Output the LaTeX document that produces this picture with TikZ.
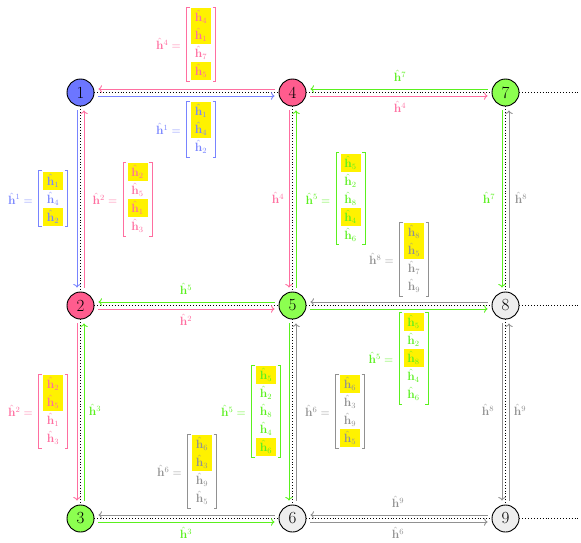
\documentclass[tikz,border=0pt]{standalone}
\usetikzlibrary{arrows.meta}
\definecolor{nBlue}{RGB}{108,118,255}
\definecolor{nPink}{RGB}{255,92,142}
\definecolor{nGreen}{RGB}{140,255,80}
\definecolor{nGray}{RGB}{238,238,238}
\definecolor{blueC}{RGB}{120,132,255}
\definecolor{pinkC}{RGB}{255,110,160}
\definecolor{greenC}{RGB}{90,240,30}
\definecolor{grayC}{RGB}{145,145,145}
\tikzset{
  gnode/.style={circle,draw=black,line width=0.9pt,minimum size=27pt,inner sep=0pt,font=\fontsize{17}{20}\selectfont},
  dotline/.style={dotted,line width=0.9pt,black},
  msg/.style={->,line width=0.9pt,shorten >=4pt,shorten <=4pt},
  msgT/.style={msg,transform canvas={yshift=3.5pt}},
  msgB/.style={msg,transform canvas={yshift=-3.5pt}},
  msgL/.style={msg,transform canvas={xshift=-3.5pt}},
  msgR/.style={msg,transform canvas={xshift=3.5pt}},
  entry/.style={inner sep=0pt,minimum width=20pt,minimum height=18pt},
  lbl/.style={inner sep=1pt},
}
\newcommand{\hvec}[7]{%
  \foreach \i/\hl [count=\k] in {#6} {%
    \ifnum\hl=1 \def\fillc{yellow}\else\def\fillc{none}\fi
    \node[entry,fill=\fillc,text=#4] (#1-\k) at (#2,{#3-(#5-1)*9+(\k-1)*18}) {$\hat{\mathbf h}_{\i}$};
  }
  \draw[#4,line width=0.6pt] ({#2-11.5},{#3-(#5-1)*9-10}) -- ({#2-14.5},{#3-(#5-1)*9-10}) -- ({#2-14.5},{#3+(#5-1)*9+10}) -- ({#2-11.5},{#3+(#5-1)*9+10});
  \draw[#4,line width=0.6pt] ({#2+11.5},{#3-(#5-1)*9-10}) -- ({#2+14.5},{#3-(#5-1)*9-10}) -- ({#2+14.5},{#3+(#5-1)*9+10}) -- ({#2+11.5},{#3+(#5-1)*9+10});
  \node[lbl,anchor=east,text=#4] (#1-l) at ({#2-19},#3) {$\hat{\mathbf h}^{#7} =$};
}
\begin{document}
\begin{tikzpicture}[x=1pt,y=-1pt,font=\fontsize{12}{14}\selectfont]
\useasboundingbox (0,0) rectangle (581,542);
% nodes
\node[gnode,fill=nBlue] (n1) at (80.5,92.5) {1};
\node[gnode,fill=nPink] (n4) at (292.5,92.5) {4};
\node[gnode,fill=nGreen] (n7) at (505.5,92.5) {7};
\node[gnode,fill=nPink] (n2) at (80.5,305.5) {2};
\node[gnode,fill=nGreen] (n5) at (292.5,305.5) {5};
\node[gnode,fill=nGray] (n8) at (505.5,305.5) {8};
\node[gnode,fill=nGreen] (n3) at (80.5,518.5) {3};
\node[gnode,fill=nGray] (n6) at (292.5,518.5) {6};
\node[gnode,fill=nGray] (n9) at (505.5,518.5) {9};
\coordinate (e7) at (578,92.5);
\coordinate (e8) at (578,305.5);
\coordinate (e9) at (578,518.5);
% dotted edges
\draw[dotline] (n1) -- (n4);
\draw[dotline] (n4) -- (n7);
\draw[dotline] (n2) -- (n5);
\draw[dotline] (n5) -- (n8);
\draw[dotline] (n3) -- (n6);
\draw[dotline] (n6) -- (n9);
\draw[dotline] (n1) -- (n2);
\draw[dotline] (n2) -- (n3);
\draw[dotline] (n4) -- (n5);
\draw[dotline] (n5) -- (n6);
\draw[dotline] (n7) -- (n8);
\draw[dotline] (n8) -- (n9);
\draw[dotline] (n7) -- (e7);
\draw[dotline] (n8) -- (e8);
\draw[dotline] (n9) -- (e9);
% horizontal messages
\draw[msgT,pinkC] (n4) -- (n1);
\draw[msgB,blueC] (n1) -- (n4);
\draw[msgT,greenC] (n7) -- (n4);
\draw[msgB,pinkC] (n4) -- (n7);
\draw[msgT,greenC] (n5) -- (n2);
\draw[msgB,pinkC] (n2) -- (n5);
\draw[msgT,grayC] (n8) -- (n5);
\draw[msgB,greenC] (n5) -- (n8);
\draw[msgT,grayC] (n6) -- (n3);
\draw[msgB,greenC] (n3) -- (n6);
\draw[msgT,grayC] (n9) -- (n6);
\draw[msgB,grayC] (n6) -- (n9);
% vertical messages
\draw[msgL,blueC] (n1) -- (n2);
\draw[msgR,pinkC] (n2) -- (n1);
\draw[msgL,pinkC] (n4) -- (n5);
\draw[msgR,greenC] (n5) -- (n4);
\draw[msgL,greenC] (n7) -- (n8);
\draw[msgR,grayC] (n8) -- (n7);
\draw[msgL,pinkC] (n2) -- (n3);
\draw[msgR,greenC] (n3) -- (n2);
\draw[msgL,greenC] (n5) -- (n6);
\draw[msgR,grayC] (n6) -- (n5);
\draw[msgL,grayC] (n8) -- (n9);
\draw[msgR,grayC] (n9) -- (n8);
% edge labels
\node[lbl,text=greenC] (l47a) at (400,76) {$\hat{\mathbf h}^{7}$};
\node[lbl,text=pinkC] (l47b) at (400,107) {$\hat{\mathbf h}^{4}$};
\node[lbl,text=greenC] (l25a) at (186,289) {$\hat{\mathbf h}^{5}$};
\node[lbl,text=pinkC] (l25b) at (186,320) {$\hat{\mathbf h}^{2}$};
\node[lbl,text=greenC] (l36b) at (186,533) {$\hat{\mathbf h}^{3}$};
\node[lbl,text=grayC] (l69a) at (398,502) {$\hat{\mathbf h}^{9}$};
\node[lbl,text=grayC] (l69b) at (398,533) {$\hat{\mathbf h}^{6}$};
\node[lbl,text=pinkC] (l45) at (278,198) {$\hat{\mathbf h}^{4}$};
\node[lbl,text=greenC] (l78a) at (489,198) {$\hat{\mathbf h}^{7}$};
\node[lbl,text=grayC] (l78b) at (521,198) {$\hat{\mathbf h}^{8}$};
\node[lbl,text=greenC] (l23) at (95,410) {$\hat{\mathbf h}^{3}$};
\node[lbl,text=grayC] (l89a) at (488,410) {$\hat{\mathbf h}^{8}$};
\node[lbl,text=grayC] (l89b) at (520,410) {$\hat{\mathbf h}^{9}$};
% vectors
\hvec{va}{201}{44}{pinkC}{4}{4/1,1/1,7/0,5/1}{4}
\hvec{vb}{201}{129}{blueC}{3}{1/1,4/1,2/0}{1}
\hvec{vc}{53}{198.5}{blueC}{3}{1/1,4/0,2/1}{1}
\hvec{vd}{137.5}{199}{pinkC}{4}{2/1,5/0,1/1,3/0}{2}
\hvec{ve}{350.5}{198.5}{greenC}{5}{5/1,2/0,8/0,4/1,6/0}{5}
\hvec{vf}{414}{259}{grayC}{4}{8/1,5/1,7/0,9/0}{8}
\hvec{vg}{413.5}{358}{greenC}{5}{5/1,2/0,8/1,4/0,6/0}{5}
\hvec{vh}{53}{411}{pinkC}{4}{2/1,5/1,1/0,3/0}{2}
\hvec{vi}{266}{411}{greenC}{5}{5/1,2/0,8/0,4/0,6/1}{5}
\hvec{vj}{350}{411}{grayC}{4}{6/1,3/0,9/0,5/1}{6}
\hvec{vk}{202}{471}{grayC}{4}{6/1,3/1,9/0,5/0}{6}
\end{tikzpicture}
\end{document}
